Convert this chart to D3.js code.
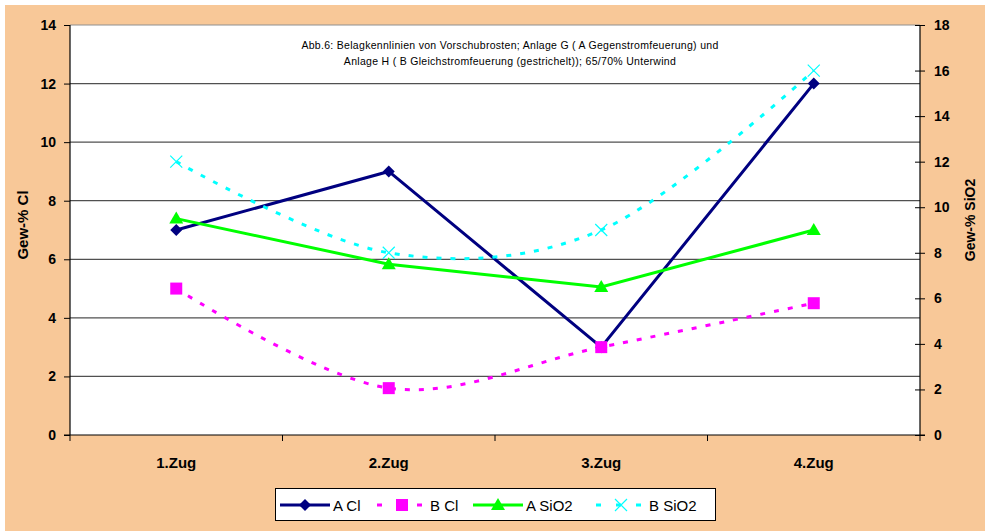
<!DOCTYPE html>
<html>
<head>
<meta charset="utf-8">
<script src="https://cdn.jsdelivr.net/npm/d3@7/dist/d3.min.js"></script>
<style>
  html, body { margin: 0; padding: 0; background: #fff; }
  svg { display: block; font-family: "Liberation Sans", Arial, sans-serif; }
</style>
</head>
<body>
<svg id="chart" width="985" height="531"></svg>
<script>
// Kategorien (Züge) und Messwerte
const categories = ["1.Zug", "2.Zug", "3.Zug", "4.Zug"];
const aCl   = [7, 9, 3, 12];        // Anlage G, Gew-% Cl
const bCl   = [5, 1.6, 3, 4.5];     // Anlage H, Gew-% Cl
const aSiO2 = [9.5, 7.5, 6.5, 9];   // Anlage G, Gew-% SiO2
const bSiO2 = [12, 8, 9, 16];       // Anlage H, Gew-% SiO2

const leftTicks  = [0, 2, 4, 6, 8, 10, 12, 14];
const rightTicks = [0, 2, 4, 6, 8, 10, 12, 14, 16, 18];

const titleLines = [
  "Abb.6: Belagkennlinien von Vorschubrosten; Anlage G ( A Gegenstromfeuerung) und",
  "Anlage H ( B Gleichstromfeuerung (gestrichelt)); 65/70% Unterwind"
];

const svg = d3.select("#chart");
const plot = { left: 70, right: 920, top: 25, bottom: 435 };
const boldFont = "'Liberation Sans', Arial, sans-serif";

// Hintergrund
svg.append("rect").attr("x", 5).attr("y", 5).attr("width", 980).attr("height", 526)
  .attr("fill", "#F8C898");
svg.append("rect").attr("x", plot.left).attr("y", plot.top)
  .attr("width", plot.right - plot.left).attr("height", plot.bottom - plot.top)
  .attr("fill", "#fff");

const x = d3.scaleBand().domain(categories).range([plot.left, plot.right]);
const yL = d3.scaleLinear().domain([0, 14]).range([plot.bottom, plot.top]);
const yR = d3.scaleLinear().domain([0, 18]).range([plot.bottom, plot.top]);
const cx = c => x(c) + x.bandwidth() / 2;

// Gitterlinien
svg.append("g").selectAll("line").data(leftTicks.filter(t => t > 0)).join("line")
  .attr("x1", plot.left).attr("x2", plot.right)
  .attr("y1", d => yL(d)).attr("y2", d => yL(d))
  .attr("stroke", d => d === 14 ? "#909090" : "#505050").attr("stroke-width", 1.2);

// Linke Achse
const gL = svg.append("g").attr("transform", `translate(${plot.left},0)`)
  .call(d3.axisLeft(yL).tickValues(leftTicks).tickSize(6).tickPadding(8));
gL.select(".domain").attr("stroke", "#000").attr("stroke-width", 1.2).attr("d", `M0,${plot.top}V${plot.bottom}`);
gL.selectAll(".tick line").attr("stroke", "#000");
gL.selectAll(".tick text").attr("font-size", 14).attr("font-weight", "bold").attr("fill", "#000")
  .attr("font-family", boldFont);

// Rechte Achse
const gR = svg.append("g").attr("transform", `translate(${plot.right},0)`)
  .call(d3.axisRight(yR).tickValues(rightTicks).tickSize(5).tickPadding(9));
gR.select(".domain").attr("stroke", "#000").attr("stroke-width", 1.2).attr("d", `M0,${plot.top}V${plot.bottom}`);
gR.selectAll(".tick line").attr("stroke", "#000").attr("x1", -5);
gR.selectAll(".tick text").attr("font-size", 14).attr("font-weight", "bold").attr("fill", "#000")
  .attr("font-family", boldFont);

// Kategorienachse
const bounds = [plot.left, ...categories.map(c => x(c) + x.bandwidth())];
svg.append("line").attr("x1", plot.left - 6).attr("x2", plot.right + 5)
  .attr("y1", plot.bottom).attr("y2", plot.bottom).attr("stroke", "#000").attr("stroke-width", 1.2);
svg.append("g").selectAll("line").data(bounds).join("line")
  .attr("x1", d => d).attr("x2", d => d).attr("y1", plot.bottom).attr("y2", plot.bottom + 6)
  .attr("stroke", "#000");
svg.append("g").selectAll("text").data(categories).join("text")
  .attr("x", d => cx(d)).attr("y", 468).attr("text-anchor", "middle")
  .attr("font-size", 15).attr("font-weight", "bold")
  .attr("font-family", boldFont)
  .text(d => d);

// Achsentitel
svg.append("text").attr("transform", "translate(28,225) rotate(-90)")
  .attr("text-anchor", "middle").attr("font-size", 15).attr("font-weight", "bold")
  .text("Gew-% Cl");
svg.append("text").attr("transform", "translate(975,220) rotate(-90)")
  .attr("text-anchor", "middle").attr("font-size", 14).attr("font-weight", "bold")
  .text("Gew-% SiO2");

// Diagrammtitel
svg.append("g").selectAll("text").data(titleLines).join("text")
  .attr("x", 510).attr("y", (d, i) => 49 + i * 16).attr("text-anchor", "middle")
  .attr("font-size", 10.5).attr("letter-spacing", 0.3).text(d => d);

// Datenreihen
const series = [
  { name: "A Cl",   values: aCl,   scale: yL, color: "#000080", dash: null,  smooth: false, marker: "diamond" },
  { name: "B Cl",   values: bCl,   scale: yL, color: "#FF00FF", dash: "5,9", smooth: true,  marker: "square" },
  { name: "A SiO2", values: aSiO2, scale: yR, color: "#00FF00", dash: null,  smooth: false, marker: "triangle" },
  { name: "B SiO2", values: bSiO2, scale: yR, color: "#00FFFF", dash: "5,9", smooth: true,  marker: "cross" }
];

function drawMarker(g, type, color) {
  if (type === "diamond") {
    g.append("path").attr("d", "M0,-6L6,0L0,6L-6,0Z").attr("fill", color);
  } else if (type === "square") {
    g.append("rect").attr("x", -6).attr("y", -6).attr("width", 12).attr("height", 12).attr("fill", color);
  } else if (type === "triangle") {
    g.append("path").attr("d", "M0,-7L7,5L-7,5Z").attr("fill", color);
  } else if (type === "cross") {
    g.append("path").attr("d", "M-6,-6L6,6M6,-6L-6,6").attr("stroke", color).attr("stroke-width", 1.2).attr("fill", "none");
  }
}

series.forEach(s => {
  const line = d3.line()
    .x((d, i) => cx(categories[i]))
    .y(d => s.scale(d))
    .curve(s.smooth ? d3.curveCardinal.tension(0) : d3.curveLinear);
  svg.append("path").datum(s.values).attr("d", line)
    .attr("fill", "none").attr("stroke", s.color).attr("stroke-width", 3)
    .attr("stroke-dasharray", s.dash);
});
series.forEach(s => {
  s.values.forEach((v, i) => {
    const g = svg.append("g").attr("transform", `translate(${cx(categories[i])},${s.scale(v)})`);
    drawMarker(g, s.marker, s.color);
  });
});

// Legende
const legend = svg.append("g");
legend.append("rect").attr("x", 275.5).attr("y", 488.5).attr("width", 440).attr("height", 32)
  .attr("fill", "#fff").attr("stroke", "#000").attr("stroke-width", 1);
const legendX = [280, 377, 473, 596];
series.forEach((s, i) => {
  const x0 = legendX[i], ly = 505;
  legend.append("line").attr("x1", x0).attr("x2", x0 + 50).attr("y1", ly).attr("y2", ly)
    .attr("stroke", s.color).attr("stroke-width", 3)
    .attr("stroke-dasharray", s.dash ? "5,15" : null);
  const g = legend.append("g").attr("transform", `translate(${x0 + 25},${ly})`);
  drawMarker(g, s.marker, s.color);
  legend.append("text").attr("x", x0 + 53).attr("y", ly + 5.5)
    .attr("font-size", 15).text(s.name);
});
</script>
</body>
</html>
